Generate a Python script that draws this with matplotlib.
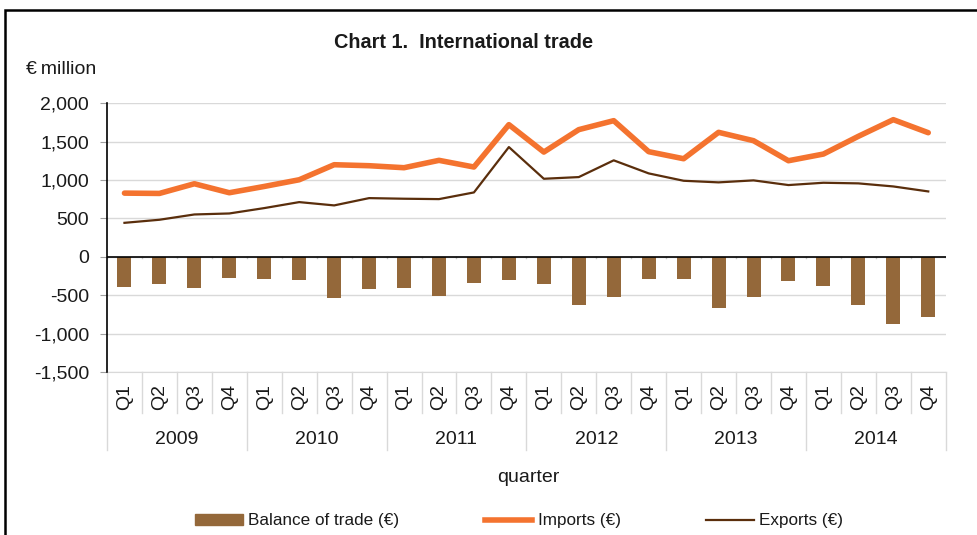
import numpy as np
import matplotlib
matplotlib.use('Agg')
import matplotlib.pyplot as plt
from matplotlib.patches import Rectangle
from matplotlib.lines import Line2D
import matplotlib.transforms as mtrans

plt.rcParams['font.family'] = ['Liberation Sans', 'DejaVu Sans']

# values, EUR million
years = ['2009', '2010', '2011', '2012', '2013', '2014']
quarters = ['Q1', 'Q2', 'Q3', 'Q4']
imports = [830, 826, 952, 835, 917, 1004, 1200, 1187, 1161, 1257, 1170, 1722,
           1365, 1657, 1774, 1370, 1278, 1622, 1513, 1252, 1339, 1570, 1787, 1617]
exports = [443, 483, 552, 565, 635, 713, 670, 765, 757, 752, 839, 1430,
           1017, 1039, 1257, 1087, 991, 970, 996, 935, 965, 957, 917, 852]
balance = [-391, -348, -409, -270, -291, -300, -535, -422, -409, -509, -339, -296,
           -352, -622, -526, -283, -291, -661, -526, -317, -378, -622, -878, -778]
yticks = [-1500, -1000, -500, 0, 500, 1000, 1500, 2000]

c_bar = '#94683a'
c_imp = '#f4732f'
c_exp = '#5a2e0c'
c_grid = '#d9d9d9'
fs = 14

fig = plt.figure(figsize=(9.78, 5.35), dpi=100)
ax = fig.add_axes([0.1094, 0.3047, 0.8576, 0.5022])

x = np.arange(len(imports))
ax.bar(x, balance, width=0.4, color=c_bar, zorder=2)
ax.plot(x, imports, color=c_imp, lw=4, solid_capstyle='round', zorder=4)
ax.plot(x, exports, color=c_exp, lw=1.6, zorder=3)

ax.set_xlim(-0.5, len(x) - 0.5)
ax.set_ylim(-1500, 2000)
ax.set_yticks(yticks)
ax.set_yticklabels(['{:,}'.format(v) for v in yticks], fontsize=fs, color='#1a1a1a')
ax.yaxis.grid(True, color=c_grid, lw=1)
ax.set_axisbelow(True)
ax.axhline(0, color='black', lw=1.2, zorder=5)
ax.tick_params(axis='y', length=5, color='#a0a0a0', pad=8)
ax.set_xticks([])

for s in ['top', 'right']:
    ax.spines[s].set_visible(False)
ax.spines['bottom'].set_color(c_grid)
ax.spines['left'].set_color('black')
ax.spines['left'].set_linewidth(1.2)
ax.spines['left'].set_zorder(6)

# category axis made by hand: ticks at zero, separators below
tr = mtrans.blended_transform_factory(ax.transData, ax.transAxes)
for b in np.arange(len(x) + 1) - 0.5:
    ax.plot([b, b], [0, -17], color='#bfbfbf', lw=1, zorder=4)
    low = -0.29 if (b + 0.5) % 4 == 0 else -0.153
    ax.plot([b, b], [0, low], color=c_grid, lw=1, transform=tr, clip_on=False)

labels_q = quarters * len(years)
for i, q in enumerate(labels_q):
    ax.text(x[i], -0.093, q, rotation=90, ha='center', va='center',
            fontsize=fs, color='#1a1a1a', transform=tr)
for j, yr in enumerate(years):
    ax.text(4 * j + 1.5, -0.25, yr, ha='center', va='center',
            fontsize=fs, color='#1a1a1a', transform=tr)

fig.text(528 / 978, 1 - 478 / 535, 'quarter', ha='center', va='center',
         fontsize=fs, color='#1a1a1a')
fig.text(464 / 978, 1 - 43 / 535, 'Chart 1.  International trade', ha='center',
         va='center', fontsize=14.3, fontweight='bold', color='#1a1a1a')
fig.text(26 / 978, 1 - 69 / 535, '€\u2009million', ha='left', va='center',
         fontsize=fs, color='#1a1a1a')

# frame around the chart
fig.patches.append(Rectangle((5 / 978, -0.1), 1.1, 1 - 10 / 535 + 0.1,
                             transform=fig.transFigure, fill=False,
                             edgecolor='black', lw=1.8))

handles = [Rectangle((0, 0), 1, 1, color=c_bar),
           Line2D([], [], color=c_imp, lw=4),
           Line2D([], [], color=c_exp, lw=1.6)]
fig.legend(handles, ['Balance of trade (€)', 'Imports (€)', 'Exports (€)'],
           loc='center', bbox_to_anchor=(519 / 978, 1 - 521 / 535), ncol=3,
           frameon=False, fontsize=12.3, handlelength=2.8, handleheight=0.55,
           handletextpad=0.3, columnspacing=5.0, labelcolor='#1a1a1a')

plt.savefig('out.png', dpi=100)
